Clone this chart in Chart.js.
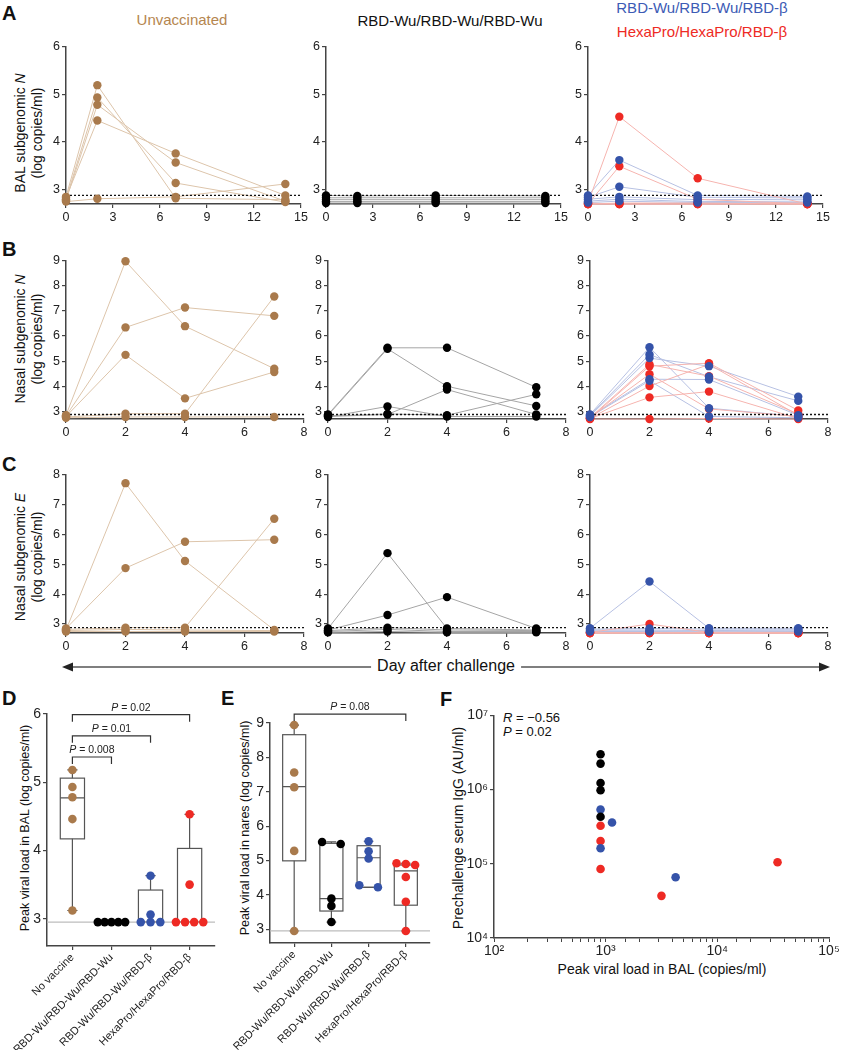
<!DOCTYPE html>
<html>
<head>
<meta charset="utf-8">
<script src="https://cdn.jsdelivr.net/npm/chart.js@4.4.1/dist/chart.umd.min.js"></script>
<style>
  body { margin: 0; background: #fff; font-family: 'Liberation Sans', Arial, sans-serif; }
  #page { position: relative; width: 841px; height: 1050px; overflow: hidden; }
  canvas { position: absolute; }
  .t { position: absolute; white-space: nowrap; color: #111; }
  .lab { font-weight: bold; font-size: 20px; line-height: 20px; }
  .cc { transform: translate(-50%, -50%); }
  .vt { transform: translate(-50%, -50%) rotate(-90deg); text-align: center; }
</style>
</head>
<body>
<div id="page">
  <div class="t lab" style="left:2px;top:3px">A</div>
  <div class="t lab" style="left:2px;top:239px">B</div>
  <div class="t lab" style="left:2px;top:454px">C</div>
  <div class="t lab" style="left:2px;top:688px">D</div>
  <div class="t lab" style="left:221px;top:688px">E</div>
  <div class="t lab" style="left:440px;top:689px">F</div>

  <div class="t cc" style="left:182px;top:19px;font-size:15px;color:#B5864F">Unvaccinated</div>
  <div class="t cc" style="left:450px;top:20px;font-size:15px;color:#111">RBD-Wu/RBD-Wu/RBD-Wu</div>
  <div class="t cc" style="left:702px;top:7px;font-size:15px;color:#3C5BB5">RBD-Wu/RBD-Wu/RBD-β</div>
  <div class="t cc" style="left:702px;top:31px;font-size:15px;color:#EE2A24">HexaPro/HexaPro/RBD-β</div>

  <div class="t vt" style="left:29px;top:133px;font-size:14px;line-height:17px">BAL subgenomic <i>N</i><br>(log copies/ml)</div>
  <div class="t vt" style="left:29px;top:339px;font-size:14px;line-height:17px">Nasal subgenomic <i>N</i><br>(log copies/ml)</div>
  <div class="t vt" style="left:29px;top:557px;font-size:14px;line-height:17px">Nasal subgenomic <i>E</i><br>(log copies/ml)</div>

  <svg style="position:absolute;left:0;top:655px" width="841" height="24">
    <line x1="68" y1="12" x2="824" y2="12" stroke="#555" stroke-width="1.5"/>
    <polygon points="62,12 73,7.5 73,16.5" fill="#222"/>
    <polygon points="830,12 819,7.5 819,16.5" fill="#222"/>
  </svg>
  <div class="t cc" style="left:446px;top:666px;font-size:16px;background:#fff;padding:0 6px">Day after challenge</div>

  <div class="t vt" style="left:25px;top:828px;font-size:12.5px">Peak viral load in BAL (log copies/ml)</div>
  <div class="t vt" style="left:245px;top:828px;font-size:12.5px">Peak viral load in nares (log copies/ml)</div>
  <div class="t vt" style="left:458px;top:828px;font-size:14px">Prechallenge serum IgG (AU/ml)</div>
  <div class="t cc" style="left:662px;top:969px;font-size:14px">Peak viral load in BAL (copies/ml)</div>
  <div class="t" style="left:503px;top:711px;font-size:13px;line-height:14px"><i>R</i> = −0.56<br><i>P</i> = 0.02</div>

  <canvas id="a1"></canvas><canvas id="a2"></canvas><canvas id="a3"></canvas>
  <canvas id="b1"></canvas><canvas id="b2"></canvas><canvas id="b3"></canvas>
  <canvas id="c1"></canvas><canvas id="c2"></canvas><canvas id="c3"></canvas>
  <canvas id="d"></canvas><canvas id="e"></canvas><canvas id="f"></canvas>
</div>

<script>
// ---- data ----
const DAYS_A = [0, 2, 7, 14];
const DAYS_BC = [0, 2, 4, 7];
const X_TICKS_A = [0, 3, 6, 9, 12, 15];
const X_TICKS_BC = [0, 2, 4, 6, 8];
const Y_TICKS_A = [3, 4, 5, 6];
const Y_TICKS_B = [3, 4, 5, 6, 7, 8, 9];
const Y_TICKS_C = [3, 4, 5, 6, 7, 8];
const LOD_DOTTED = 2.88;

// BAL sgN (panel A), one row per animal, values at DAYS_A
const A_UNVAC = [[2.85, 5.19, 2.82, 2.79], [2.80, 4.93, 3.14, 2.74], [2.78, 4.78, 3.57, 2.76], [2.83, 4.45, 3.76, 2.88], [2.75, 2.81, 2.85, 3.12]];
const A_WU = [[2.88, 2.87, 2.88, 2.87], [2.83, 2.83, 2.83, 2.83], [2.79, 2.79, 2.79, 2.79], [2.75, 2.75, 2.75, 2.75], [2.72, 2.72, 2.72, 2.72]];
const A_BETA = [[2.88, 3.62, 2.88, 2.86], [2.84, 3.06, 2.84, 2.83], [2.80, 2.85, 2.79, 2.80], [2.76, 2.80, 2.75, 2.76], [2.73, 2.76, 2.73, 2.73]];
const A_HEXA = [[2.72, 4.53, 3.24, 2.70], [2.70, 3.49, 2.80, 2.70], [2.70, 2.72, 2.72, 2.70], [2.72, 2.70, 2.70, 2.70], [2.70, 2.70, 2.70, 2.72], [2.70, 2.70, 2.70, 2.70]];

// nasal sgN (panel B), values at DAYS_BC
const B_UNVAC = [[2.85, 8.97, 6.39, 4.70], [2.82, 6.34, 7.13, 6.80], [2.80, 5.25, 3.52, 4.57], [2.78, 2.91, 2.91, 7.57], [2.75, 2.78, 2.78, 2.78]];
const B_WU = [[2.88, 5.53, 5.53, 3.96], [2.85, 5.49, 4.00, 3.22], [2.82, 2.90, 2.85, 3.68], [2.80, 2.88, 3.87, 2.88], [2.78, 3.20, 2.80, 2.80]];
const B_BETA = [[2.88, 5.55, 3.13, 2.80], [2.85, 5.26, 4.38, 3.42], [2.82, 5.12, 4.80, 3.59], [2.80, 4.28, 4.27, 2.85], [2.78, 4.22, 2.80, 2.75]];
const B_HEXA = [[2.75, 4.87, 4.40, 2.90], [2.72, 4.80, 4.92, 3.04], [2.75, 4.48, 3.10, 2.80], [2.72, 4.01, 4.87, 2.85], [2.72, 3.56, 3.79, 2.72], [2.70, 2.70, 2.72, 2.70]];

// nasal sgE (panel C), values at DAYS_BC
const C_UNVAC = [[2.80, 7.71, 5.11, 2.80], [2.85, 4.87, 5.75, 5.82], [2.82, 2.88, 2.88, 6.52], [2.78, 2.82, 2.80, 2.78], [2.75, 2.75, 2.75, 2.75]];
const C_WU = [[2.85, 5.37, 2.85, 2.80], [2.80, 3.30, 3.90, 2.85], [2.78, 2.88, 2.80, 2.78], [2.75, 2.82, 2.75, 2.75], [2.72, 2.75, 2.72, 2.72]];
const C_BETA = [[2.86, 4.42, 2.86, 2.86], [2.83, 2.85, 2.83, 2.83], [2.80, 2.80, 2.78, 2.80], [2.77, 2.77, 2.76, 2.77], [2.75, 2.75, 2.74, 2.75]];
const C_HEXA = [[2.72, 3.00, 2.72, 2.70], [2.70, 2.72, 2.70, 2.70], [2.70, 2.70, 2.72, 2.72], [2.72, 2.70, 2.70, 2.70], [2.70, 2.72, 2.70, 2.70], [2.70, 2.70, 2.70, 2.70]];

// peak loads (panels D, E)
const GROUPS = ['No vaccine', 'RBD-Wu/RBD-Wu/RBD-Wu', 'RBD-Wu/RBD-Wu/RBD-β', 'HexaPro/HexaPro/RBD-β'];
const D_Y_TICKS = [3, 4, 5, 6];
const D_LOD = 2.95;
const D_UNVAC = [5.18, 4.93, 4.78, 4.46, 3.12];
const D_WU = [2.95, 2.95, 2.95, 2.95, 2.95];
const D_BETA = [3.63, 3.06, 2.95, 2.95, 2.95];
const D_HEXA = [4.53, 3.50, 2.95, 2.95, 2.95, 2.95];
const D_MIN = [3.12, 2.95, 2.95, 2.95];
const D_Q1 = [4.17, 2.95, 2.95, 2.95];
const D_MED = [4.77, 2.95, 2.95, 2.95];
const D_Q3 = [5.06, 2.95, 3.42, 4.03];
const D_MAX = [5.18, 2.95, 3.63, 4.53];
const D_P_TO = [2, 3, 4];
const D_P_Y = [5.37, 5.68, 5.99];
const D_P_TEXT = ['0.008', '0.01', '0.02'];

const E_Y_TICKS = [3, 4, 5, 6, 7, 8, 9];
const E_UNVAC = [8.94, 7.56, 7.13, 5.28, 2.95];
const E_WU = [5.54, 5.48, 3.89, 3.68, 3.21];
const E_BETA = [5.56, 5.27, 5.06, 4.28, 4.22];
const E_HEXA = [4.92, 4.90, 4.87, 4.52, 3.80, 2.95];
const E_MIN = [2.95, 3.21, 4.22, 2.95];
const E_Q1 = [4.99, 3.53, 4.22, 3.70];
const E_MED = [7.15, 3.89, 5.08, 4.70];
const E_Q3 = [8.66, 5.50, 5.43, 4.87];
const E_MAX = [8.94, 5.54, 5.56, 4.92];
const E_P_TO = [4];
const E_P_Y = [9.26];
const E_P_TEXT = ['0.08'];

// correlation (panel F)
const F_WU_X = [900, 900, 900, 900, 900];
const F_WU_Y = [3.0e6, 2.24e6, 1.23e6, 9.8e5, 4.3e5];
const F_BETA_X = [900, 1140, 900, 4230];
const F_BETA_Y = [5.4e5, 3.6e5, 1.62e5, 6.6e4];
const F_HEXA_X = [900, 900, 900, 3160, 34600];
const F_HEXA_Y = [3.25e5, 2.03e5, 8.5e4, 3.7e4, 1.05e5];
const F_Y_TICKS = [1e4, 1e5, 1e6, 1e7];

// ---- styling ----
const FONT = "'Liberation Sans', Arial, sans-serif";
const AXIS = '#444';
const BROWN = '#A97A4C', BROWN_LINE = '#DDC5AB';
const BLACK = '#000000', GRAY_LINE = '#A5A5A5';
const BLUE = '#3553A9', BLUE_LINE = '#B7C1E3';
const RED = '#EE2A24', RED_LINE = '#F6B4AF';

function mount(id, left, top, w, h, yW, xH, padT, padR) {
    const c = document.getElementById(id);
    c.width = yW + w + padR;
    c.height = padT + h + xH;
    c.style.left = (left - yW) + 'px';
    c.style.top = (top - padT) + 'px';
    return c;
}

function axis(min, max, tickVals, fit, fontSize, extra) {
    return Object.assign({
        type: 'linear', min: min, max: max,
        afterBuildTicks: s => { s.ticks = tickVals.map(v => ({ value: v })); },
        afterFit: fit,
        ticks: { color: '#222', font: { family: FONT, size: fontSize }, padding: 2, autoSkip: false, maxRotation: 0 },
        grid: { drawOnChartArea: false, tickLength: 4, color: AXIS, lineWidth: 1.2 },
        border: { color: AXIS, width: 1.5 }
    }, extra || {});
}

function animalSets(days, animals, pt, ln, ptOrder) {
    const out = [];
    animals.forEach(vals => {
        const pts = days.map((d, i) => ({ x: d, y: vals[i] }));
        out.push({ data: pts, showLine: true, borderColor: ln, borderWidth: 1, pointRadius: 0, order: 5, clip: false });
        out.push({ data: pts, showLine: false, backgroundColor: pt, borderWidth: 0, pointRadius: 4.2, order: ptOrder, clip: false });
    });
    return out;
}

function timeChart(id, left, top, w, h, days, xTicks, yTicks, groups) {
    const canvas = mount(id, left, top, w, h, 22, 22, 8, 12);
    const xMax = xTicks[xTicks.length - 1];
    let sets = [{
        data: [{ x: xTicks[0], y: LOD_DOTTED }, { x: xMax, y: LOD_DOTTED }],
        showLine: true, borderColor: '#111', borderWidth: 1.4, borderDash: [2, 2], pointRadius: 0, order: 3, clip: false
    }];
    groups.forEach(g => { sets = sets.concat(animalSets(days, g[0], g[1], g[2], g[3])); });
    new Chart(canvas, {
        type: 'scatter',
        data: { datasets: sets },
        options: {
            responsive: false, animation: false,
            layout: { padding: { left: 0, top: 8, right: 12, bottom: 0 } },
            plugins: { legend: { display: false }, tooltip: { enabled: false } },
            scales: {
                x: axis(0, xMax, xTicks, s => { s.height = 22; }, 12.5),
                y: axis(2.7, yTicks[yTicks.length - 1], yTicks, s => { s.width = 22; }, 12.5)
            }
        }
    });
}

const rowA = [66, 326, 588], rowBC = [66, 328, 590];
timeChart('a1', rowA[0], 45, 235, 159, DAYS_A, X_TICKS_A, Y_TICKS_A, [[A_UNVAC, BROWN, BROWN_LINE, 1]]);
timeChart('a2', rowA[1], 45, 235, 159, DAYS_A, X_TICKS_A, Y_TICKS_A, [[A_WU, BLACK, GRAY_LINE, 1]]);
timeChart('a3', rowA[2], 45, 235, 159, DAYS_A, X_TICKS_A, Y_TICKS_A, [[A_HEXA, RED, RED_LINE, 2], [A_BETA, BLUE, BLUE_LINE, 1]]);
timeChart('b1', rowBC[0], 259, 238, 160, DAYS_BC, X_TICKS_BC, Y_TICKS_B, [[B_UNVAC, BROWN, BROWN_LINE, 1]]);
timeChart('b2', rowBC[1], 259, 238, 160, DAYS_BC, X_TICKS_BC, Y_TICKS_B, [[B_WU, BLACK, GRAY_LINE, 1]]);
timeChart('b3', rowBC[2], 259, 238, 160, DAYS_BC, X_TICKS_BC, Y_TICKS_B, [[B_HEXA, RED, RED_LINE, 2], [B_BETA, BLUE, BLUE_LINE, 1]]);
timeChart('c1', rowBC[0], 473, 238, 160, DAYS_BC, X_TICKS_BC, Y_TICKS_C, [[C_UNVAC, BROWN, BROWN_LINE, 1]]);
timeChart('c2', rowBC[1], 473, 238, 160, DAYS_BC, X_TICKS_BC, Y_TICKS_C, [[C_WU, BLACK, GRAY_LINE, 1]]);
timeChart('c3', rowBC[2], 473, 238, 160, DAYS_BC, X_TICKS_BC, Y_TICKS_C, [[C_HEXA, RED, RED_LINE, 2], [C_BETA, BLUE, BLUE_LINE, 1]]);

// spread near-equal values side by side, like the original dot plot
function spread(values, group) {
    const pts = values.map(v => ({ x: group, y: v }));
    const used = values.map(() => false);
    for (let i = 0; i < values.length; i++) {
        if (used[i]) continue;
        const idx = [i];
        for (let j = i + 1; j < values.length; j++) {
            if (!used[j] && Math.abs(values[j] - values[i]) < 0.1) idx.push(j);
        }
        idx.forEach(k => { used[k] = true; });
        const n = idx.length;
        if (n > 1) {
            const step = n <= 3 ? 0.5 / (n - 1) : 0.7 / (n - 1);
            idx.forEach((k, m) => { pts[k].x = group + (m - (n - 1) / 2) * step; });
        }
    }
    return pts;
}

function boxPlugin(mins, q1s, meds, q3s, maxs, pTo, pY, pText) {
    return {
        id: 'boxes',
        beforeDatasetsDraw(chart) {
            const { ctx, scales: { x, y } } = chart;
            const hw = x.getPixelForValue(1.31) - x.getPixelForValue(1);
            const cw = x.getPixelForValue(1.13) - x.getPixelForValue(1);
            ctx.save();
            ctx.strokeStyle = '#555';
            ctx.lineWidth = 1.2;
            q1s.forEach((q1, i) => {
                const cx = x.getPixelForValue(i + 1);
                const yMin = y.getPixelForValue(mins[i]), yQ1 = y.getPixelForValue(q1);
                const yMed = y.getPixelForValue(meds[i]), yQ3 = y.getPixelForValue(q3s[i]);
                const yMax = y.getPixelForValue(maxs[i]);
                ctx.strokeRect(cx - hw, yQ3, 2 * hw, yQ1 - yQ3);
                ctx.beginPath();
                ctx.moveTo(cx - hw, yMed); ctx.lineTo(cx + hw, yMed);
                ctx.moveTo(cx, yQ3); ctx.lineTo(cx, yMax);
                ctx.moveTo(cx - cw, yMax); ctx.lineTo(cx + cw, yMax);
                ctx.moveTo(cx, yQ1); ctx.lineTo(cx, yMin);
                ctx.moveTo(cx - cw, yMin); ctx.lineTo(cx + cw, yMin);
                ctx.stroke();
            });
            ctx.restore();
        },
        afterDatasetsDraw(chart) {
            const { ctx, scales: { x, y } } = chart;
            ctx.save();
            ctx.strokeStyle = '#333';
            ctx.fillStyle = '#222';
            ctx.lineWidth = 1.2;
            ctx.textBaseline = 'alphabetic';
            pTo.forEach((to, i) => {
                const x1 = x.getPixelForValue(1), x2 = x.getPixelForValue(to), yy = y.getPixelForValue(pY[i]);
                ctx.beginPath();
                ctx.moveTo(x1, yy + 7); ctx.lineTo(x1, yy); ctx.lineTo(x2, yy); ctx.lineTo(x2, yy + 7);
                ctx.stroke();
                ctx.font = 'italic 10.5px ' + FONT;
                const wP = ctx.measureText('P').width;
                ctx.font = '10.5px ' + FONT;
                const rest = ' = ' + pText[i];
                const wR = ctx.measureText(rest).width;
                const sx = (x1 + x2) / 2 - (wP + wR) / 2;
                ctx.font = 'italic 10.5px ' + FONT;
                ctx.fillText('P', sx, yy - 4);
                ctx.font = '10.5px ' + FONT;
                ctx.fillText(rest, sx + wP, yy - 4);
            });
            ctx.restore();
        }
    };
}

function peakChart(id, left, top, w, h, yW, yMax, yTicks, series, stats, brackets) {
    const canvas = mount(id, left, top, w, h, yW, 1050 - top - h, 24, 8);
    const colors = [BROWN, BLACK, BLUE, RED];
    const sets = [{
        data: [{ x: 0.35, y: D_LOD }, { x: 4.65, y: D_LOD }],
        showLine: true, borderColor: '#BDBDBD', borderWidth: 1.2, pointRadius: 0, order: 9
    }];
    series.forEach((vals, i) => {
        sets.push({ data: spread(vals, i + 1), backgroundColor: colors[i], borderWidth: 0, pointRadius: 4.3, order: 1, clip: false });
    });
    new Chart(canvas, {
        type: 'scatter',
        data: { datasets: sets },
        options: {
            responsive: false, animation: false,
            layout: { padding: { left: 0, top: 24, right: 8, bottom: 0 } },
            plugins: { legend: { display: false }, tooltip: { enabled: false } },
            scales: {
                x: axis(0.35, 4.65, [1, 2, 3, 4], s => { s.height = 1050 - top - h; }, 11, {
                    ticks: {
                        color: '#222', font: { family: FONT, size: 11 }, padding: 1, autoSkip: false,
                        minRotation: 45, maxRotation: 45, callback: v => GROUPS[v - 1]
                    }
                }),
                y: axis(2.6, yMax, yTicks, s => { s.width = yW; }, 14)
            }
        },
        plugins: [boxPlugin(stats[0], stats[1], stats[2], stats[3], stats[4], brackets[0], brackets[1], brackets[2])]
    });
}

peakChart('d', 47, 714, 168, 232, 47, 6, D_Y_TICKS,
    [D_UNVAC, D_WU, D_BETA, D_HEXA],
    [D_MIN, D_Q1, D_MED, D_Q3, D_MAX],
    [D_P_TO, D_P_Y, D_P_TEXT]);
peakChart('e', 270, 723, 160, 220, 38, 9, E_Y_TICKS,
    [E_UNVAC, E_WU, E_BETA, E_HEXA],
    [E_MIN, E_Q1, E_MED, E_Q3, E_MAX],
    [E_P_TO, E_P_Y, E_P_TEXT]);

// panel F
const SUP = { '0': '⁰', '1': '¹', '2': '²', '3': '³', '4': '⁴', '5': '⁵', '6': '⁶', '7': '⁷', '8': '⁸', '9': '⁹' };
function powLabel(v) {
    const e = Math.log10(v);
    if (Math.abs(e - Math.round(e)) > 1e-6) return '';
    return '10' + String(Math.round(e)).split('').map(ch => SUP[ch]).join('');
}
const fCanvas = mount('f', 494, 715, 335, 223, 40, 28, 10, 12);
const toPts = (xs, ys) => xs.map((x, i) => ({ x: x, y: ys[i] }));
new Chart(fCanvas, {
    type: 'scatter',
    data: {
        datasets: [
            { data: toPts(F_WU_X, F_WU_Y), backgroundColor: BLACK, borderWidth: 0, pointRadius: 4.3, clip: false },
            { data: toPts(F_BETA_X, F_BETA_Y), backgroundColor: BLUE, borderWidth: 0, pointRadius: 4.3, clip: false },
            { data: toPts(F_HEXA_X, F_HEXA_Y), backgroundColor: RED, borderWidth: 0, pointRadius: 4.3, clip: false }
        ]
    },
    options: {
        responsive: false, animation: false,
        layout: { padding: { left: 0, top: 10, right: 12, bottom: 0 } },
        plugins: { legend: { display: false }, tooltip: { enabled: false } },
        scales: {
            x: {
                type: 'logarithmic', min: 100, max: 1e5,
                afterFit: s => { s.height = 28; },
                ticks: { color: '#222', font: { family: FONT, size: 14 }, padding: 1, autoSkip: false, maxRotation: 0, callback: powLabel },
                grid: { drawOnChartArea: false, tickLength: 4, color: AXIS, lineWidth: 1 },
                border: { color: AXIS, width: 1.5 }
            },
            y: {
                type: 'logarithmic', min: 1e4, max: 1e7,
                afterBuildTicks: s => { s.ticks = F_Y_TICKS.map(v => ({ value: v })); },
                afterFit: s => { s.width = 40; },
                ticks: { color: '#222', font: { family: FONT, size: 14 }, padding: 2, autoSkip: false, callback: powLabel },
                grid: { drawOnChartArea: false, tickLength: 4, color: AXIS, lineWidth: 1.2 },
                border: { color: AXIS, width: 1.5 }
            }
        }
    }
});
</script>
</body>
</html>
